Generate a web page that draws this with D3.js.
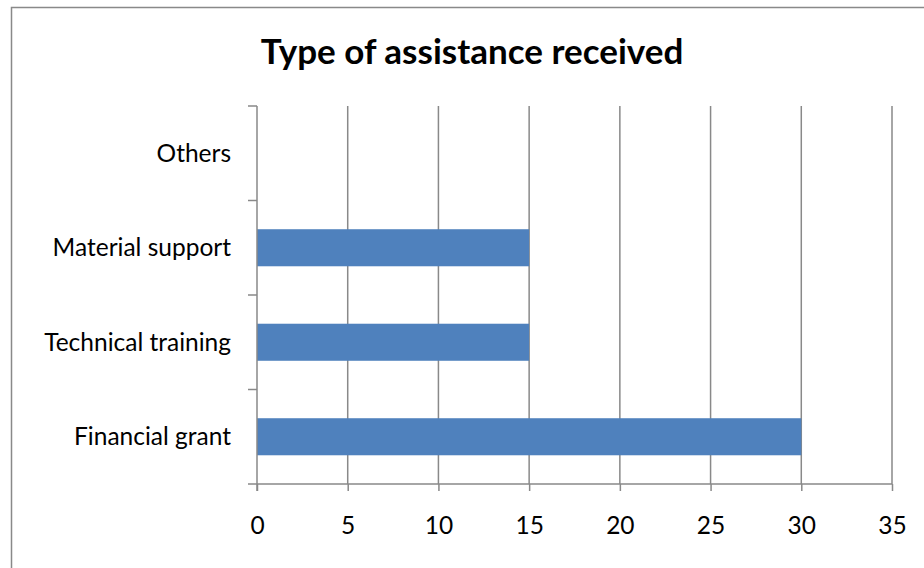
<!DOCTYPE html>
<html>
<head>
<meta charset="utf-8">
<script src="https://cdn.jsdelivr.net/npm/d3@7"></script>
<style>
  html, body { margin: 0; padding: 0; background: #fff; }
  svg { display: block; }
</style>
</head>
<body>
<svg id="chart" width="924" height="568"></svg>
<script>
// Chart data
const categories = ["Others", "Material support", "Technical training", "Financial grant"];
const values = [0, 15, 15, 30];
const xTicks = [0, 5, 10, 15, 20, 25, 30, 35];
const titleText = "Type of assistance received";

const svg = d3.select("#chart");
const W = 924, H = 568;
const font = "Lato, 'Open Sans', sans-serif";
const gridColor = "#898989";
const labelSize = 24.5;

// Outer chart frame
svg.append("rect")
  .attr("x", 11.5).attr("y", 7.5)
  .attr("width", W + 20).attr("height", H + 20)
  .attr("fill", "#fff")
  .attr("stroke", gridColor).attr("stroke-width", 1.5);

const plot = { left: 257, right: 892, top: 106, bottom: 484 };

const x = d3.scaleLinear().domain([0, 35]).range([plot.left, plot.right]);
const y = d3.scaleBand().domain(categories)
  .range([plot.top, plot.bottom])
  .paddingInner(0.608).paddingOuter(0.304);
const slot = d3.scaleBand().domain(categories).range([plot.top, plot.bottom]);

// Vertical gridlines
svg.append("g").selectAll("line")
  .data(xTicks.filter(d => d > 0))
  .join("line")
  .attr("x1", d => x(d)).attr("x2", d => x(d))
  .attr("y1", plot.top).attr("y2", plot.bottom)
  .attr("stroke", gridColor).attr("stroke-width", 1.5);

// Bars
svg.append("g").selectAll("rect")
  .data(categories.map((c, i) => ({ c, v: values[i] })).filter(d => d.v > 0))
  .join("rect")
  .attr("x", x(0))
  .attr("y", d => y(d.c))
  .attr("width", d => x(d.v) - x(0))
  .attr("height", y.bandwidth())
  .attr("fill", "#4F81BD");

// X axis
const xAxis = svg.append("g")
  .attr("transform", `translate(0,${plot.bottom})`)
  .call(d3.axisBottom(x).tickValues(xTicks).tickSize(7).tickPadding(26).tickSizeOuter(0));
xAxis.select(".domain").attr("stroke", gridColor).attr("stroke-width", 1.5)
  .attr("d", `M${plot.left - 9},0H${plot.right}`);
xAxis.selectAll(".tick line").attr("stroke", gridColor).attr("stroke-width", 1.5);
xAxis.selectAll(".tick text")
  .attr("font-family", font).attr("font-size", labelSize).attr("fill", "#000");

// Y axis with ticks at category boundaries
const yAxisG = svg.append("g");
yAxisG.append("line")
  .attr("x1", plot.left).attr("x2", plot.left)
  .attr("y1", plot.top).attr("y2", plot.bottom + 7)
  .attr("stroke", gridColor).attr("stroke-width", 1.5);
const bounds = categories.map(c => slot(c));
yAxisG.selectAll("line.tick")
  .data(bounds)
  .join("line")
  .attr("class", "tick")
  .attr("x1", plot.left - 9).attr("x2", plot.left)
  .attr("y1", d => d).attr("y2", d => d)
  .attr("stroke", gridColor).attr("stroke-width", 1.5);

yAxisG.selectAll("text")
  .data(categories)
  .join("text")
  .attr("x", plot.left - 26)
  .attr("y", d => slot(d) + slot.bandwidth() / 2)
  .attr("dy", "0.35em")
  .attr("text-anchor", "end")
  .attr("font-family", font).attr("font-size", labelSize).attr("fill", "#000")
  .text(d => d);

// Title
svg.append("text")
  .attr("x", 472).attr("y", 64)
  .attr("text-anchor", "middle")
  .attr("font-family", font).attr("font-size", 35).attr("font-weight", "bold")
  .attr("fill", "#000")
  .text(titleText);
</script>
</body>
</html>
